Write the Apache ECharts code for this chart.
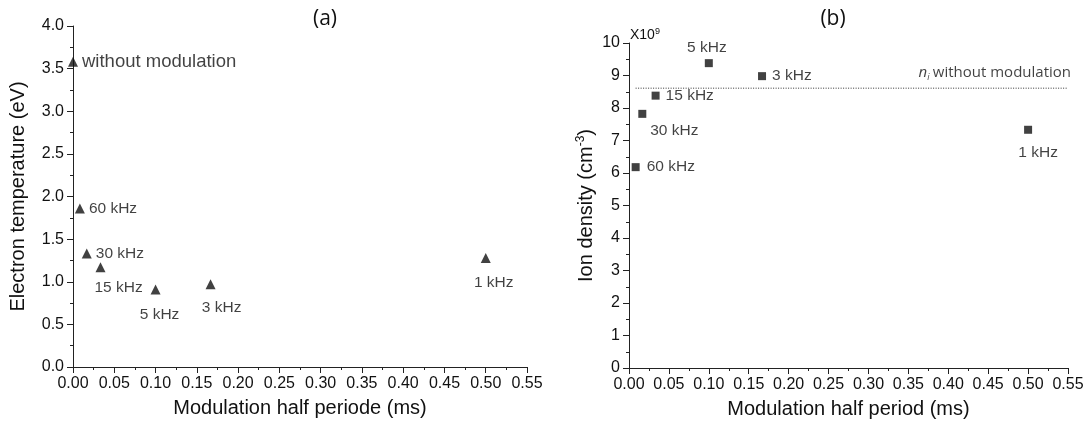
<!DOCTYPE html>
<html><head><meta charset="utf-8">
<script src="https://cdn.jsdelivr.net/npm/echarts@6/dist/echarts.min.js"></script>
<style>html,body{margin:0;padding:0;background:#fff}#c{width:1090px;height:428px}</style>
</head><body><div id="c"></div>
<script>
// ---- data ----
const freqLabels = ['60 kHz', '30 kHz', '15 kHz', '5 kHz', '3 kHz', '1 kHz'];
const halfPeriod = [0.00833, 0.01667, 0.03333, 0.1, 0.16667, 0.5];     // ms
const teValues = [1.86, 1.33, 1.17, 0.91, 0.97, 1.28];                 // eV
const teNoModLabel = 'without modulation';
const teNoModX = 0;
const teNoMod = 3.58;
const niValues = [6.18, 7.82, 8.38, 9.38, 8.98, 7.33];                 // x1e9 cm^-3
const niNoMod = 8.61;
const niLineX = [0.0083, 0.55];
const xTicks = [0, 0.55, 0.05];
const teTicks = [0, 4, 0.5];
const niTicks = [0, 10, 1];

// ---- label placement (style only) ----
const teLabelPos = [
  {position: 'right', distance: 4},
  {position: 'right', distance: 4},
  {position: 'bottom', offset: [18, 2]},
  {position: 'bottom', offset: [4, 7]},
  {position: 'bottom', offset: [11, 5]},
  {position: 'bottom', offset: [8, 7]}
];
const niLabelPos = [
  {position: 'right', distance: 7},
  {position: 'bottom', offset: [32, 0]},
  {position: 'right', distance: 6},
  {position: 'top', offset: [-2, 2]},
  {position: 'right', distance: 6},
  {position: 'bottom', offset: [10, 6]}
];

const txt = '#111';
const axCol = '#222';
const fontFam = 'Liberation Sans';
const openFam = 'Open Sans';

function xAxisCfg(gi, name) {
  return {
    type: 'value', gridIndex: gi, min: xTicks[0], max: xTicks[1], interval: xTicks[2],
    name: name, nameLocation: 'middle', nameGap: 31,
    nameTextStyle: {fontSize: 20, color: txt, fontFamily: fontFam},
    axisLine: {show: true, lineStyle: {color: axCol, width: 1}},
    axisTick: {show: true, length: 6, lineStyle: {color: axCol}},
    minorTick: {show: true, splitNumber: 2, length: 3, lineStyle: {color: axCol}},
    splitLine: {show: false},
    axisLabel: {fontSize: 16, color: txt, fontFamily: fontFam, margin: 9,
      formatter: v => v.toFixed(2)}
  };
}
function yAxisCfg(gi, t, name, gap, fmt, rich) {
  return {
    type: 'value', gridIndex: gi, min: t[0], max: t[1], interval: t[2],
    name: name, nameLocation: 'middle', nameGap: gap,
    nameTextStyle: {fontSize: 20, color: txt, fontFamily: fontFam, rich: rich},
    axisLine: {show: true, lineStyle: {color: axCol, width: 1}},
    axisTick: {show: true, length: 6, lineStyle: {color: axCol}},
    minorTick: {show: true, splitNumber: 2, length: 3, lineStyle: {color: axCol}},
    splitLine: {show: false},
    axisLabel: {fontSize: 16, color: txt, fontFamily: fontFam, margin: 9, formatter: fmt}
  };
}

const labelStyle = {fontSize: 15.5, color: txt, fontFamily: fontFam};

const teData = halfPeriod.map((x, i) => ({
  value: [x, teValues[i]], name: freqLabels[i],
  label: Object.assign({show: true, formatter: freqLabels[i]}, labelStyle, teLabelPos[i])
}));
teData.push({
  value: [teNoModX, teNoMod], name: teNoModLabel,
  label: Object.assign({show: true, formatter: teNoModLabel}, labelStyle,
    {fontSize: 18.5, position: 'right', distance: 4})
});
const niData = halfPeriod.map((x, i) => ({
  value: [x, niValues[i]], name: freqLabels[i],
  label: Object.assign({show: true, formatter: freqLabels[i]}, labelStyle, niLabelPos[i])
}));

const chart = echarts.init(document.getElementById('c'), null, {renderer: 'canvas'});
chart.setOption({
  animation: false,
  backgroundColor: '#fff',
  textStyle: {fontFamily: fontFam},
  title: [
    {text: '(a)', left: 320, top: 4, textAlign: 'center',
      textStyle: {fontSize: 21, fontWeight: 'normal', color: txt, fontFamily: openFam}},
    {text: '(b)', left: 828, top: 4, textAlign: 'center',
      textStyle: {fontSize: 21, fontWeight: 'normal', color: txt, fontFamily: openFam}},
    {text: 'X10{s|9}', left: 625, top: 22,
      textStyle: {fontSize: 14, fontWeight: 'normal', color: txt, fontFamily: fontFam,
        rich: {s: {fontSize: 9, color: txt, fontFamily: fontFam, verticalAlign: 'top', padding: [0, 0, 8, 0]}}}}
  ],
  grid: [
    {left: 73, right: 563, top: 26, bottom: 61},
    {left: 629, right: 22, top: 43, bottom: 60}
  ],
  xAxis: [
    xAxisCfg(0, 'Modulation half periode (ms)'),
    xAxisCfg(1, 'Modulation half period (ms)')
  ],
  yAxis: [
    yAxisCfg(0, teTicks, 'Electron temperature (eV)', 45, v => v.toFixed(1)),
    yAxisCfg(1, niTicks, 'Ion density (cm{sup|-3})', 32, v => String(v),
      {sup: {fontSize: 12, color: txt, fontFamily: fontFam, verticalAlign: 'top', padding: [0, 0, 10, 0]}})
  ],
  series: [
    {
      type: 'scatter', xAxisIndex: 0, yAxisIndex: 0, symbol: 'triangle', symbolSize: 10,
      itemStyle: {color: '#111'}, clip: true, data: teData
    },
    {
      type: 'line', xAxisIndex: 1, yAxisIndex: 1, symbol: 'none',
      lineStyle: {color: '#333', width: 1, type: [1, 1.5]},
      data: niLineX.map(x => [x, niNoMod])
    },
    {
      type: 'scatter', xAxisIndex: 1, yAxisIndex: 1, symbolSize: 1,
      itemStyle: {color: 'rgba(0,0,0,0)'}, silent: true,
      data: [{value: [niLineX[1], niNoMod],
        label: {show: true, position: 'top', align: 'right', offset: [3, -1],
          formatter: '{n|n}{i|i} {t|without modulation}',
          rich: {
            n: {fontSize: 15, fontStyle: 'italic', color: txt, fontFamily: openFam},
            i: {fontSize: 9, fontStyle: 'italic', color: txt, fontFamily: openFam, verticalAlign: 'bottom', padding: [8, 0, 0, 0]},
            t: {fontSize: 15, color: txt, fontFamily: openFam}
          }}}]
    },
    {
      type: 'scatter', xAxisIndex: 1, yAxisIndex: 1, symbol: 'rect', symbolSize: 8,
      itemStyle: {color: '#111'}, data: niData, z: 3
    }
  ]
});
</script></body></html>
